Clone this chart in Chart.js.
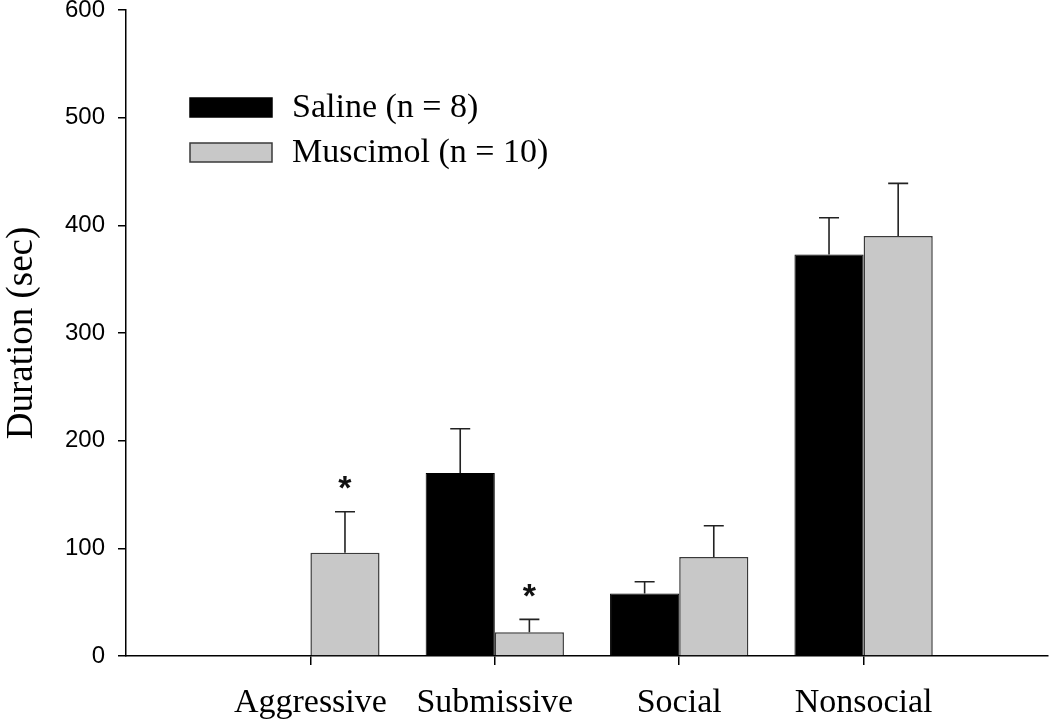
<!DOCTYPE html>
<html>
<head>
<meta charset="utf-8">
<script src="https://cdn.jsdelivr.net/npm/chart.js@4"></script>
<style>
  html, body { margin:0; padding:0; background:#fff; }
  #wrap { width:1050px; height:724px; }
</style>
</head>
<body>
<div id="wrap"><canvas id="chart" width="1050" height="724"></canvas></div>
<script>
// behaviour categories
const categories = ['Aggressive', 'Submissive', 'Social', 'Nonsocial'];
const salineMean = [0, 170, 58, 373];
const salineSem = [0, 41, 11, 34];
const muscimolMean = [96, 22, 92, 390];
const muscimolSem = [38, 12, 29, 49];
const muscimolSig = [true, true, false, false];
const salineSig = [false, false, false, false];
const yTicks = [0, 100, 200, 300, 400, 500, 600];

const SERIF = '"Liberation Serif", "Times New Roman", serif';
const SANS = '"Liberation Sans", Arial, sans-serif';

const pts = arr => arr.map((v, i) => ({x: i + 1, y: v}));

// upward error bars + significance stars
const errorBars = {
  id: 'errorBars',
  afterDatasetsDraw(chart){
    const c = chart.ctx;
    const ys = chart.scales.y;
    chart.data.datasets.forEach((ds, di) => {
      const meta = chart.getDatasetMeta(di);
      meta.data.forEach((bar, i) => {
        const sem = ds.sem[i];
        const top = ys.getPixelForValue(ds.data[i].y + sem);
        if(sem > 0){
          c.save();
          c.strokeStyle = '#222';
          c.lineWidth = 1.6;
          c.beginPath();
          c.moveTo(bar.x, bar.y);
          c.lineTo(bar.x, top);
          c.moveTo(bar.x - 10, top);
          c.lineTo(bar.x + 10, top);
          c.stroke();
          c.restore();
        }
        if(ds.sig[i]){
          c.save();
          c.fillStyle = '#111';
          c.font = 'bold 34px ' + SANS;
          c.textAlign = 'center';
          c.textBaseline = 'middle';
          c.fillText('*', bar.x, top - 22);
          c.restore();
        }
      });
    });
  }
};

// legend drawn inside the plot, top left
const boxLegend = {
  id: 'boxLegend',
  afterDraw(chart){
    const c = chart.ctx;
    chart.data.datasets.forEach((ds, i) => {
      const y = 98 + i * 45;
      c.save();
      c.fillStyle = ds.backgroundColor;
      c.strokeStyle = ds.borderColor;
      c.lineWidth = 1.5;
      c.fillRect(190, y, 82, 19);
      c.strokeRect(190, y, 82, 19);
      c.fillStyle = '#000';
      c.font = '34px ' + SERIF;
      c.textBaseline = 'middle';
      c.fillText(ds.label, 292, y + 10);
      c.restore();
    });
  }
};

new Chart(document.getElementById('chart').getContext('2d'), {
  type: 'bar',
  data: {
    datasets: [
      {label: 'Saline (n = 8)', data: pts(salineMean), sem: salineSem, sig: salineSig,
       backgroundColor: '#000000', borderColor: '#000000', borderWidth: 1},
      {label: 'Muscimol (n = 10)', data: pts(muscimolMean), sem: muscimolSem, sig: muscimolSig,
       backgroundColor: '#c8c8c8', borderColor: '#3a3a3a', borderWidth: 1.5}
    ]
  },
  options: {
    responsive: false,
    animation: false,
    layout: {padding: {top: 10, right: 2, left: 0, bottom: 0}},
    categoryPercentage: 0.75,
    barPercentage: 1,
    plugins: {legend: {display: false}, tooltip: {enabled: false}},
    scales: {
      x: {
        type: 'linear', min: 0, max: 5, offset: false,
        afterBuildTicks: s => { s.ticks = categories.map((_, i) => ({value: i + 1})); },
        afterFit: s => { s.height = 68; s.paddingLeft = 0; s.paddingRight = 0; },
        grid: {offset: false, drawOnChartArea: false, drawTicks: true, tickLength: 9, color: '#000', lineWidth: 1.5},
        border: {color: '#000', width: 1.5},
        ticks: {
          autoSkip: false, maxRotation: 0, padding: 18,
          color: '#000', font: {family: SERIF, size: 34},
          callback: v => categories[v - 1] || ''
        }
      },
      y: {
        min: 0, max: 600,
        afterBuildTicks: s => { s.ticks = yTicks.map(v => ({value: v})); },
        afterFit: s => { s.width = 126; s.paddingTop = 0; s.paddingBottom = 0; },
        grid: {drawOnChartArea: false, drawTicks: true, tickLength: 8, color: '#000', lineWidth: 1.5},
        border: {color: '#000', width: 1.5},
        ticks: {padding: 13, color: '#000', font: {family: SANS, size: 24}},
        title: {display: true, text: 'Duration (sec)', color: '#000',
                font: {family: SERIF, size: 37}, padding: {top: 0, bottom: 0}}
      }
    }
  },
  plugins: [errorBars, boxLegend]
});
</script>
</body>
</html>
